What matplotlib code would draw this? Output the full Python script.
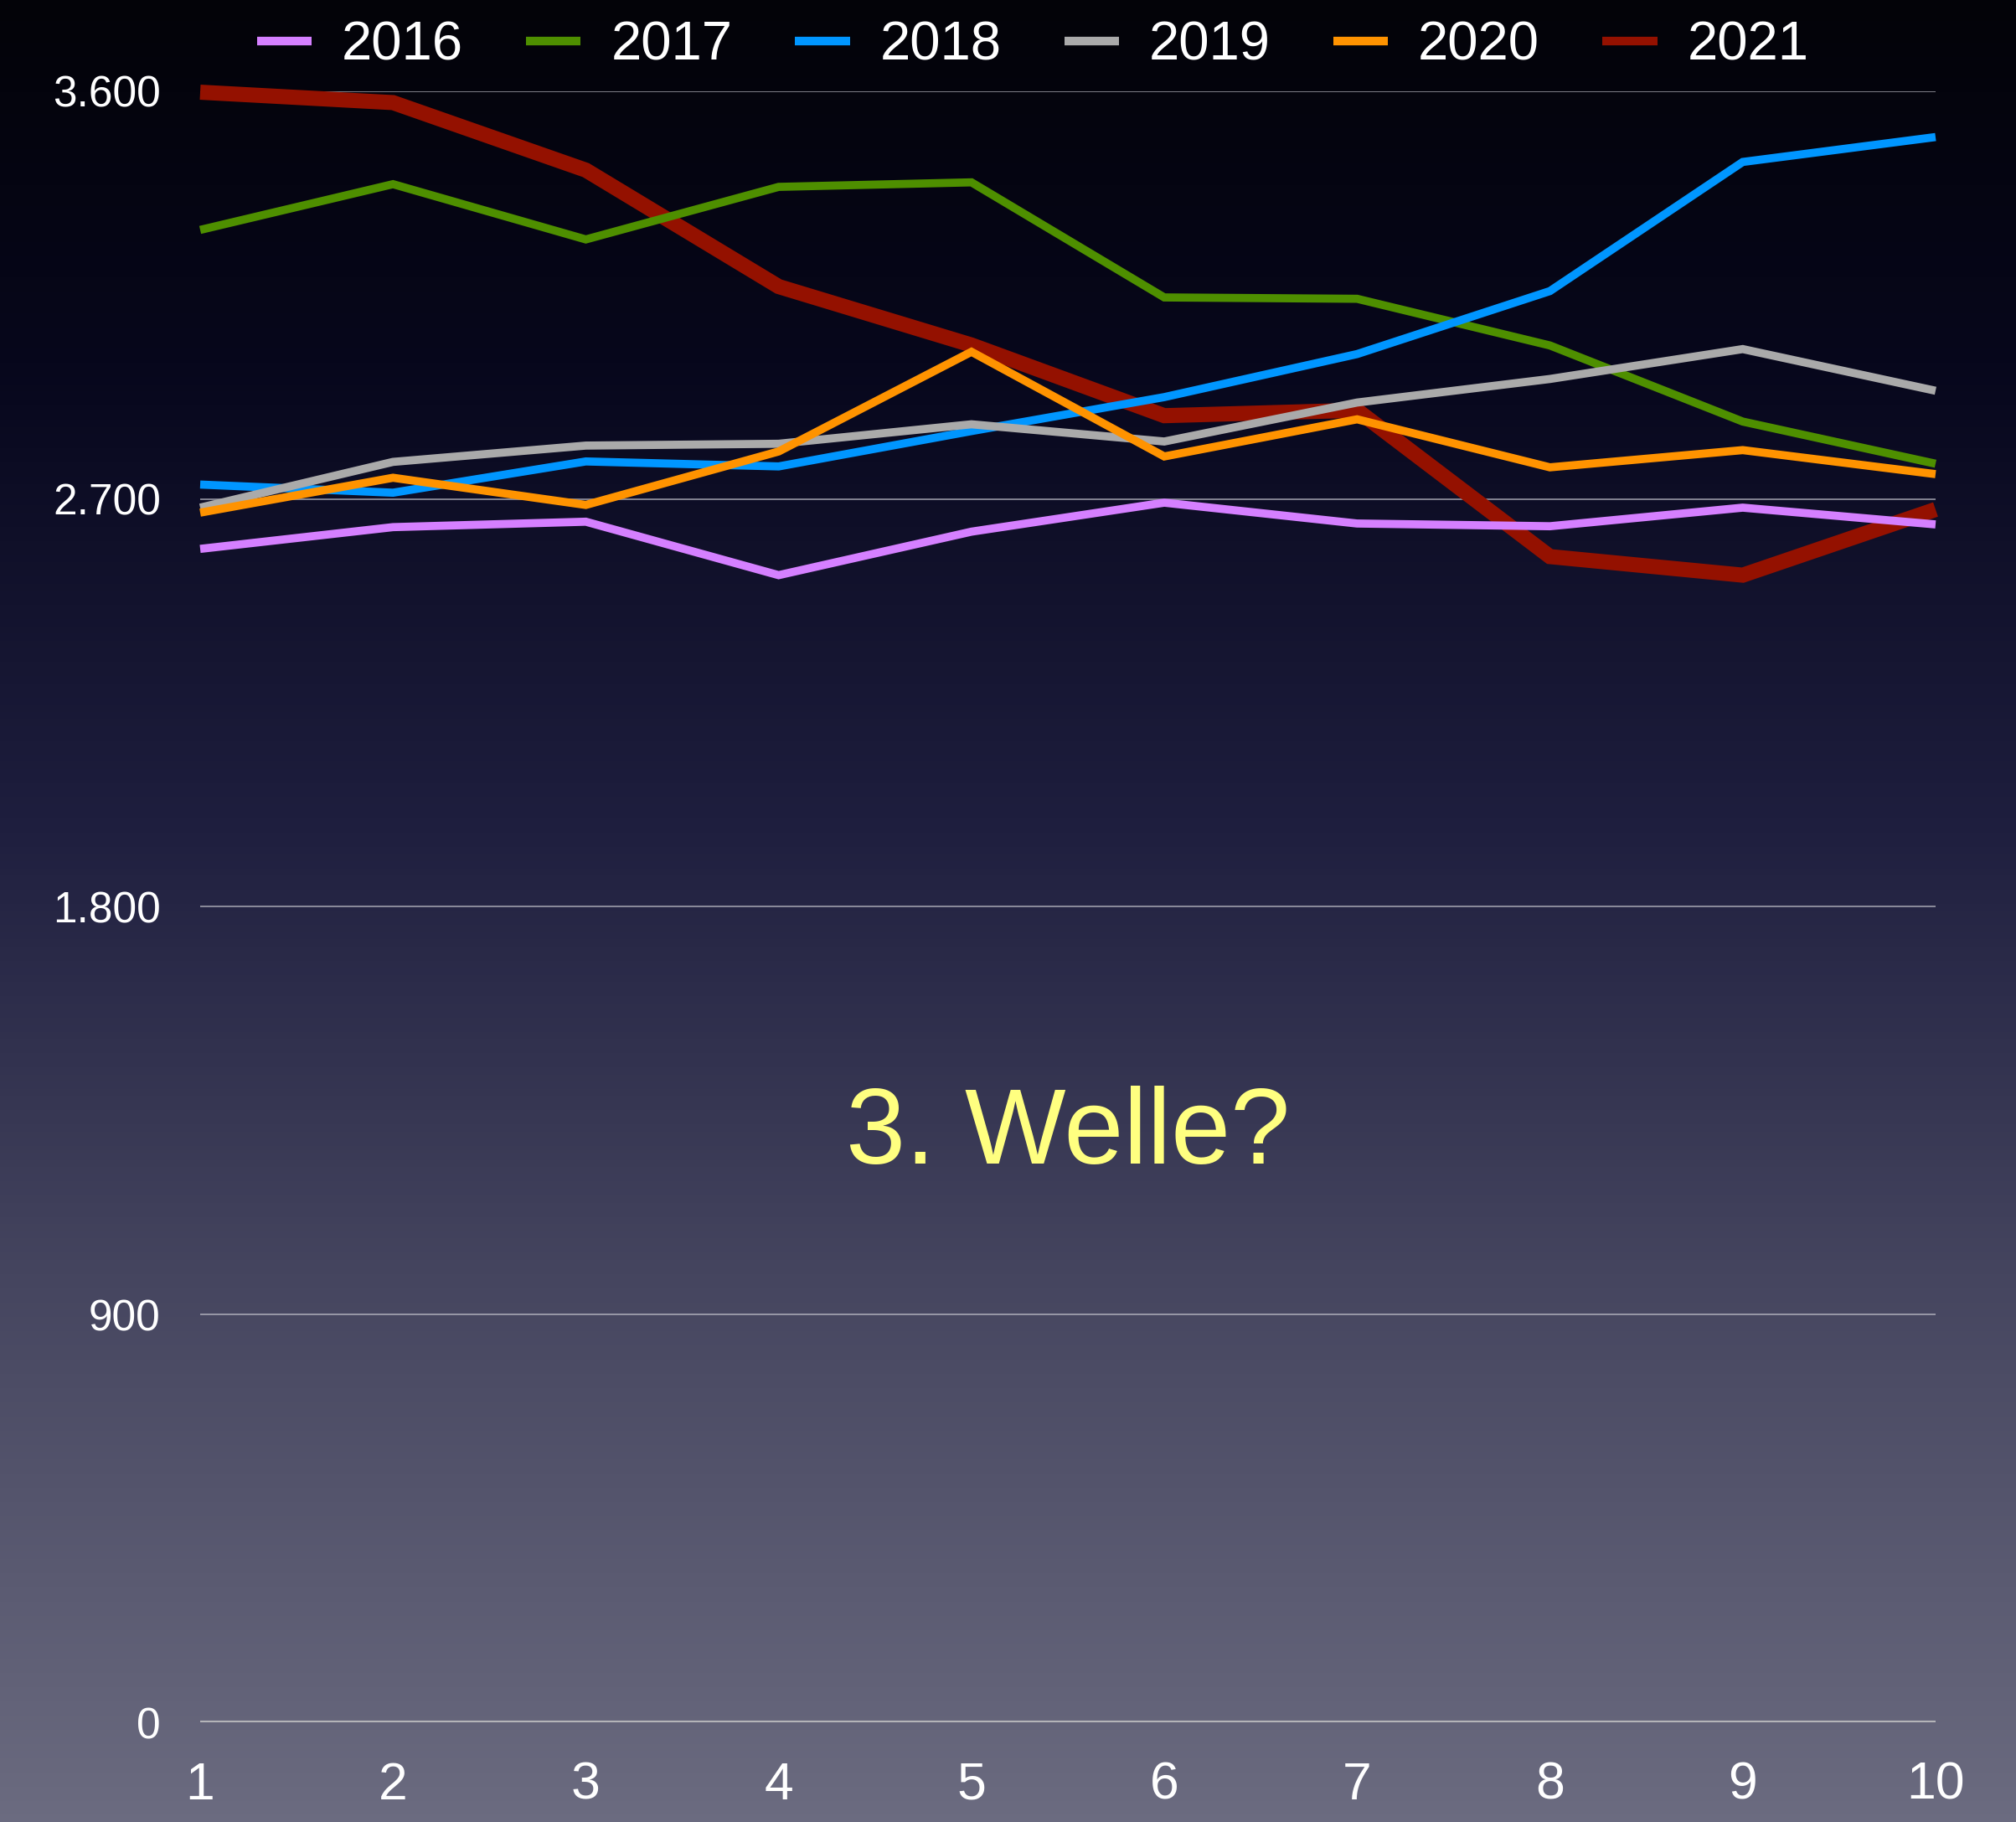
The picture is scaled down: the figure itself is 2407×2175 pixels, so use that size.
import numpy as np
import matplotlib.pyplot as plt
from matplotlib.colors import LinearSegmentedColormap

weeks = [1, 2, 3, 4, 5, 6, 7, 8, 9, 10]
years = ["2016", "2017", "2018", "2019", "2020", "2021"]

v2016 = [2590, 2638, 2650, 2532, 2628, 2692, 2646, 2640, 2681, 2644]
v2017 = [3294, 3395, 3273, 3389, 3399, 3145, 3142, 3039, 2871, 2778]
v2018 = [2732, 2714, 2783, 2772, 2850, 2925, 3020, 3159, 3444, 3499]
v2019 = [2681, 2782, 2818, 2822, 2865, 2827, 2913, 2965, 3031, 2939]
v2020 = [2670, 2747, 2687, 2805, 3025, 2794, 2876, 2770, 2808, 2755]
v2021 = [3598, 3575, 3426, 3169, 3040, 2884, 2896, 2573, 2532, 2677]

y_ticks = [0, 900, 1800, 2700, 3600]
y_labels = ["0", "900", "1.800", "2.700", "3.600"]

colors = ["#d580ff", "#4e8f00", "#0096ff", "#aaaaaa", "#ff9300", "#941100"]
series = [v2016, v2017, v2018, v2019, v2020, v2021]

font = ["Liberation Sans", "DejaVu Sans"]

fig = plt.figure(figsize=(24.07, 21.75), dpi=100)

# background gradient over the whole figure
bg = fig.add_axes([0, 0, 1, 1], zorder=-10)
cmap = LinearSegmentedColormap.from_list(
    "bg", [(0.0, "#030308"), (0.2, "#07071c"), (0.45, "#1e1e3e"),
           (0.7, "#45455f"), (1.0, "#6b6b80")])
grad = np.linspace(0, 1, 512).reshape(-1, 1)
bg.imshow(grad, aspect="auto", cmap=cmap, extent=[0, 1, 0, 1], origin="upper")
bg.axis("off")

ax = fig.add_axes([0.0993, 0.0547, 0.8608, 0.8952])
ax.set_facecolor("none")

for t in y_ticks[1:]:
    ax.axhline(t, color="#c8c8d0", lw=1.1, alpha=0.8, zorder=1)
ax.axhline(0, color="#b4b4b8", lw=3, zorder=1)

handles = []
for i, (name, vals, c) in enumerate(zip(years, series, colors)):
    lw = 13 if name == "2021" else 7
    z = 2 if name == "2021" else 3 + i
    ax.plot(weeks, vals, color=c, lw=lw, zorder=z, clip_on=False,
            solid_joinstyle="miter", solid_capstyle="butt")
    h, = ax.plot([], [], color=c, lw=7.4, solid_capstyle="butt", label=name)
    handles.append(h)

ax.set_xlim(1, 10)
ax.set_ylim(0, 3600)
ax.set_xticks(weeks)
ax.set_xticklabels([str(w) for w in weeks], family=font, fontsize=45, color="white")
ax.set_yticks(y_ticks)
ax.set_yticklabels(y_labels, family=font, fontsize=37, color="white")
ax.tick_params(axis="x", length=0, pad=33)
ax.tick_params(axis="y", length=0, pad=34)
for s in ax.spines.values():
    s.set_visible(False)

ax.text(5.5, 1233, "3. Welle?", ha="center", va="baseline", fontsize=92,
        color="#ffff80", family=font)

fig.legend(handles=handles, loc="center", bbox_to_anchor=(0.5123, 0.975),
           ncol=6, frameon=False, handlelength=1.0, handletextpad=0.55,
           columnspacing=1.15, prop={"family": font, "size": 47},
           labelcolor="white")

fig.savefig("out.png", dpi=100)
